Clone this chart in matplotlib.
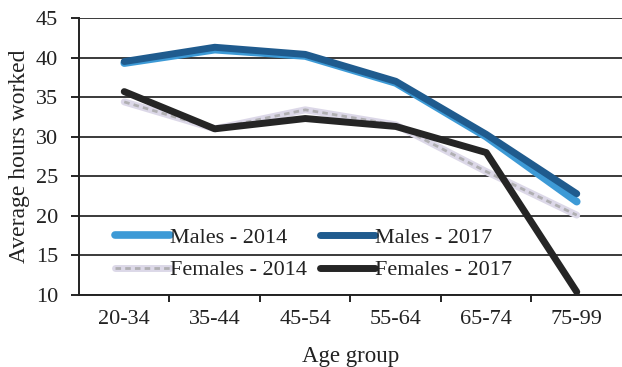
import matplotlib
matplotlib.use("Agg")
import matplotlib.pyplot as plt
import numpy as np

plt.rcParams['font.family'] = ['Liberation Serif', 'DejaVu Serif']

age_groups = ["20-34", "35-44", "45-54", "55-64", "65-74", "75-99"]
males_2014 = [39.3, 41.0, 40.2, 36.8, 30.0, 21.8]
males_2017 = [39.5, 41.3, 40.4, 37.0, 30.3, 22.8]
females_2014 = [34.4, 31.0, 33.4, 31.5, 25.6, 20.1]
females_2017 = [35.7, 31.0, 32.3, 31.3, 28.0, 10.4]

TXT = "#222222"
FS = 16

fig = plt.figure(figsize=(6.22, 3.67), dpi=100)
ax = fig.add_axes([0.127, 0.196, 0.873, 0.755])

x = np.arange(len(age_groups))

m14, = ax.plot(x, males_2014, color="#3d9ad6", lw=5.5, solid_capstyle="round",
               solid_joinstyle="round", zorder=3)
m17, = ax.plot(x, males_2017, color="#1f5b8e", lw=5.0, solid_capstyle="round",
               solid_joinstyle="round", zorder=4)
f14, = ax.plot(x, females_2014, color="#dcd8e8", lw=5.0, solid_capstyle="round",
               solid_joinstyle="round", zorder=3)
f14_pat, = ax.plot(x, females_2014, color="#a5a5a5", lw=2.0, ls=(0, (2, 1.5)),
                   alpha=0.8, zorder=3.1)
f17, = ax.plot(x, females_2017, color="#252525", lw=5.0, solid_capstyle="round",
               solid_joinstyle="round", zorder=5)

ax.set_xlim(-0.5, 5.5)
ax.set_ylim(10, 45)
ax.set_yticks(np.arange(10, 46, 5))
ax.set_xticks(x)
ax.set_xticklabels(age_groups)
ax.set_xticks(np.arange(0.5, 5.5, 1.0), minor=True)
ax.tick_params(axis="x", which="major", length=0, pad=11, labelsize=FS,
               labelcolor=TXT)
ax.tick_params(axis="x", which="minor", length=5, width=1.2, direction="out")
ax.tick_params(axis="y", length=6, width=1.2, direction="out", labelsize=FS,
               pad=9, labelcolor=TXT)
ax.grid(axis="y", color="#3a3a3a", lw=1.4)
ax.set_axisbelow(True)
for s in ["top", "right"]:
    ax.spines[s].set_visible(False)
for s in ["left", "bottom"]:
    ax.spines[s].set_linewidth(1.4)
    ax.spines[s].set_color(TXT)

ax.set_xlabel("Age group", fontsize=16.5, labelpad=12, color=TXT)
ax.set_ylabel("Average hours worked", fontsize=17, labelpad=4, color=TXT)

handles = [m14, (f14, f14_pat), m17, f17]
labels = ["Males - 2014", "Females - 2014", "Males - 2017", "Females - 2017"]
leg = ax.legend(handles, labels, ncol=2, loc="lower left",
                bbox_to_anchor=(0.066, 0.053), borderaxespad=0, borderpad=0,
                frameon=False, fontsize=FS, handlelength=2.5, handletextpad=0.0,
                columnspacing=0.55, labelspacing=0.55)
for t in leg.get_texts():
    t.set_color(TXT)

fig.savefig("out.png", dpi=100)
